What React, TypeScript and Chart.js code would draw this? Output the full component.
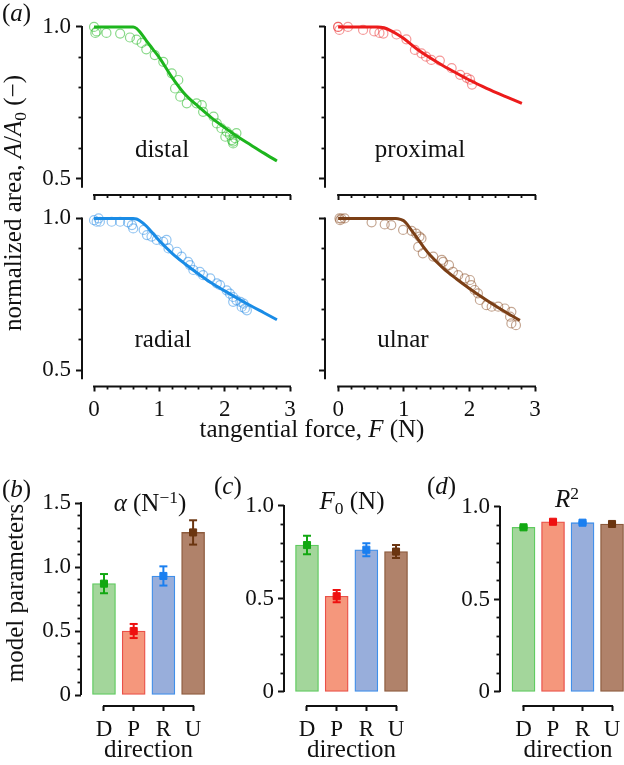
import React, { useEffect, useRef } from 'react';
import { Chart, registerables } from 'chart.js';
Chart.register(...registerables);

const PAGE_W = 624;
const PAGE_H = 765;
const SERIF = "'Liberation Serif', 'Times New Roman', Times, serif";
const INK = '#111111';
const TICK_SIZE = 23;
const TEXT_SIZE = 25;

// ---------- (a) force–area data ----------
const distalFitF = [0, 0.6, 0.65, 0.7, 0.8, 0.9, 1.0, 1.2, 1.4, 1.6, 1.8, 2.0, 2.2, 2.4, 2.6, 2.8];
const distalFitA = [1, 1, 0.995, 0.984, 0.955, 0.927, 0.899, 0.832, 0.776, 0.737, 0.7, 0.668, 0.638, 0.611, 0.584, 0.558];
const distalObsF = [0.0, 0.02, 0.04, 0.19, 0.4, 0.55, 0.65, 0.73, 0.8, 0.93, 1.06, 1.19, 1.29, 1.24, 1.32, 1.42, 1.57, 1.65, 1.67, 1.83, 1.88, 1.95, 2.03, 2.08, 2.11, 2.13, 2.16, 2.18, 2.01, 2.13];
const distalObsA = [1.0, 0.98, 0.985, 0.98, 0.978, 0.965, 0.958, 0.947, 0.926, 0.907, 0.885, 0.847, 0.825, 0.797, 0.77, 0.748, 0.748, 0.742, 0.72, 0.704, 0.682, 0.666, 0.655, 0.644, 0.627, 0.622, 0.633, 0.65, 0.638, 0.616];

const proximalFitF = [0, 0.6, 0.7, 0.8, 0.9, 1.0, 1.2, 1.4, 1.6, 1.8, 2.0, 2.2, 2.4, 2.6, 2.8];
const proximalFitA = [1, 1, 0.997, 0.988, 0.976, 0.962, 0.927, 0.898, 0.872, 0.848, 0.825, 0.804, 0.784, 0.766, 0.748];
const proximalObsF = [0.0, 0.02, 0.0, 0.15, 0.38, 0.55, 0.63, 0.69, 0.89, 1.04, 1.17, 1.27, 1.34, 1.42, 1.55, 1.73, 1.86, 1.96, 2.01, 2.04];
const proximalObsA = [1.0, 0.99, 1.0, 1.0, 0.99, 0.985, 0.98, 0.978, 0.975, 0.959, 0.924, 0.913, 0.902, 0.891, 0.889, 0.864, 0.842, 0.832, 0.826, 0.81];

const radialFitF = [0, 0.6, 0.65, 0.7, 0.8, 0.9, 1.0, 1.2, 1.4, 1.6, 1.8, 2.0, 2.2, 2.4, 2.6, 2.8];
const radialFitA = [1, 1, 0.998, 0.992, 0.975, 0.951, 0.926, 0.884, 0.849, 0.817, 0.787, 0.761, 0.736, 0.712, 0.689, 0.666];
const radialObsF = [0.0, 0.04, 0.07, 0.09, 0.27, 0.4, 0.52, 0.58, 0.6, 0.76, 0.81, 0.88, 0.96, 1.06, 1.11, 1.14, 1.27, 1.34, 1.44, 1.47, 1.52, 1.62, 1.67, 1.78, 1.88, 1.93, 2.03, 2.08, 2.13, 2.18, 2.24, 2.29, 2.31, 2.34, 2.26, 2.13];
const radialObsA = [0.994, 0.989, 1.0, 0.989, 0.989, 0.989, 0.987, 0.978, 0.967, 0.962, 0.945, 0.94, 0.929, 0.923, 0.929, 0.901, 0.89, 0.874, 0.857, 0.846, 0.83, 0.824, 0.813, 0.802, 0.786, 0.78, 0.763, 0.752, 0.741, 0.73, 0.725, 0.719, 0.703, 0.697, 0.708, 0.725];

const ulnarFitF = [0, 0.88, 0.95, 1.0, 1.05, 1.1, 1.2, 1.3, 1.4, 1.6, 1.8, 2.0, 2.2, 2.4, 2.6, 2.77];
const ulnarFitA = [1, 1, 0.997, 0.992, 0.981, 0.966, 0.937, 0.906, 0.879, 0.836, 0.801, 0.769, 0.739, 0.711, 0.685, 0.664];
const ulnarObsF = [0.02, 0.05, 0.1, 0.03, 0.51, 0.71, 0.81, 0.99, 1.12, 1.19, 1.24, 1.27, 1.22, 1.29, 1.45, 1.58, 1.6, 1.69, 1.75, 1.83, 1.93, 2.01, 2.03, 2.08, 2.13, 2.16, 2.26, 2.34, 2.44, 2.54, 2.64, 2.62, 2.64, 2.71];
const ulnarObsA = [1.0, 0.999, 1.0, 0.994, 0.987, 0.98, 0.978, 0.962, 0.959, 0.95, 0.94, 0.934, 0.906, 0.885, 0.874, 0.863, 0.857, 0.846, 0.824, 0.813, 0.802, 0.797, 0.78, 0.764, 0.753, 0.731, 0.714, 0.709, 0.709, 0.703, 0.692, 0.676, 0.654, 0.648];

const forceMajorTicks = [0, 1, 2, 3];
const forceMinorTicks = [0.2, 0.4, 0.6, 0.8, 1.2, 1.4, 1.6, 1.8, 2.2, 2.4, 2.6, 2.8];
const areaMajorTicks = [0.5, 1.0];
const areaMinorTicks = [0.6, 0.7, 0.8, 0.9];

// ---------- (b)-(d) model parameters ----------
const directions = ['D', 'P', 'R', 'U'];
const alphaMean = [0.87, 0.5, 0.93, 1.27];
const alphaErr = [0.075, 0.055, 0.075, 0.095];
const f0Mean = [0.79, 0.515, 0.765, 0.755];
const f0Err = [0.05, 0.033, 0.035, 0.035];
const r2Mean = [0.89, 0.92, 0.915, 0.908];
const r2Err = [0.005, 0.005, 0.005, 0.005];

const alphaMajorTicks = [0, 0.5, 1.0, 1.5];
const alphaMinorTicks = [0.1, 0.2, 0.3, 0.4, 0.6, 0.7, 0.8, 0.9, 1.1, 1.2, 1.3, 1.4];
const unitMajorTicks = [0, 0.5, 1.0];
const unitMinorTicks = [0.1, 0.2, 0.3, 0.4, 0.6, 0.7, 0.8, 0.9];

// colours: D, P, R, U
const lineColors = ['#1db51d', '#ec1b1b', '#1a8ce6', '#7b3f16'];
const circleColors = ['rgba(40,185,40,0.55)', 'rgba(236,50,50,0.5)', 'rgba(40,140,230,0.5)', 'rgba(140,80,40,0.5)'];
const barFills = ['#a3d69b', '#f5977c', '#98aedb', '#b0826a'];
const barEdges = ['#5fcb5f', '#ea5048', '#3f8fea', '#8c5a3c'];
const markerColors = ['#12a812', '#ee1010', '#1a7ff0', '#6b3510'];

const fixH = (h: number) => (s: any) => {
  s.height = h;
  s.paddingLeft = 0; s.paddingRight = 0; s.paddingTop = 0; s.paddingBottom = 0;
};
const fixW = (w: number) => (s: any) => {
  s.width = w;
  s.paddingLeft = 0; s.paddingRight = 0; s.paddingTop = 0; s.paddingBottom = 0;
};
const setTicks = (vals: number[]) => (s: any) => {
  s.ticks = vals.map((v) => ({ value: v }));
};
const fmt = (v: number) => (v === 0 ? '0' : v.toFixed(1));

const spinePlugin = (xFrom: number, xTo: number, yFrom: number, yTo: number) => ({
  id: 'spines',
  afterDraw(chart: any) {
    const { ctx, chartArea, scales } = chart;
    const xs = scales.x;
    const ys = scales.y;
    ctx.save();
    ctx.strokeStyle = INK;
    ctx.lineWidth = 2;
    ctx.beginPath();
    ctx.moveTo(chartArea.left, ys.getPixelForValue(yTo) - 1);
    ctx.lineTo(chartArea.left, ys.getPixelForValue(yFrom));
    ctx.moveTo(xs.getPixelForValue(xFrom) - 1, chartArea.bottom);
    ctx.lineTo(xs.getPixelForValue(xTo) + 1, chartArea.bottom);
    ctx.stroke();
    ctx.restore();
  },
});

const tickFont = { family: SERIF, size: TICK_SIZE };

function axisPair(
  axis: 'x' | 'y',
  min: number,
  max: number,
  major: number[],
  minor: number[],
  size: number,
  showLabels: boolean,
  majorLen: number,
  minorLen: number,
  padding: number,
  labelFn: (v: number) => string,
) {
  const position = axis === 'x' ? 'bottom' : 'left';
  const fit = axis === 'x' ? fixH : fixW;
  const common = {
    type: 'linear',
    axis,
    position,
    min,
    max,
    bounds: 'data',
    offset: false,
    border: { display: false },
  };
  return {
    [axis]: {
      ...common,
      weight: 1,
      afterBuildTicks: setTicks(major),
      afterFit: fit(size),
      grid: { display: true, offset: false, drawOnChartArea: false, drawTicks: true, tickLength: majorLen, tickWidth: 2, tickColor: INK, color: INK },
      ticks: { display: showLabels, padding, color: INK, font: tickFont, autoSkip: false, maxRotation: 0, minRotation: 0, callback: (v: any) => labelFn(Number(v)) },
    },
    [axis + 'Minor']: {
      ...common,
      weight: 0,
      afterBuildTicks: setTicks(minor),
      afterFit: fit(0),
      grid: { display: true, offset: false, drawOnChartArea: false, drawTicks: true, tickLength: minorLen, tickWidth: 1.8, tickColor: INK, color: INK },
      ticks: { display: false },
    },
  };
}

type TopSpec = {
  area: [number, number, number, number];
  xMin: number;
  fitF: number[];
  fitA: number[];
  obsF: number[];
  obsA: number[];
  color: number;
  showX: boolean;
  showY: boolean;
};

const TOP_YMIN = 0.446;
const TOP_YMAX = 1.026;

function makeTop(s: TopSpec) {
  const [l, t, r, b] = s.area;
  const W = 60;
  const H = s.showX ? 40 : 10;
  return {
    type: 'scatter',
    data: {
      datasets: [
        {
          type: 'line',
          data: s.fitF.map((f, i) => ({ x: f, y: s.fitA[i] })),
          borderColor: lineColors[s.color],
          borderWidth: 3,
          pointRadius: 0,
          fill: false,
          cubicInterpolationMode: 'monotone',
          order: 1,
        },
        {
          type: 'scatter',
          data: s.obsF.map((f, i) => ({ x: f, y: s.obsA[i] })),
          pointStyle: 'circle',
          pointRadius: 4.5,
          pointBorderWidth: 1.2,
          borderColor: circleColors[s.color],
          pointBorderColor: circleColors[s.color],
          backgroundColor: 'rgba(0,0,0,0)',
          pointBackgroundColor: 'rgba(0,0,0,0)',
          order: 2,
        },
      ],
    },
    options: {
      responsive: false,
      animation: false,
      events: [],
      layout: { autoPadding: false, padding: { left: l - W, top: t, right: PAGE_W - r, bottom: PAGE_H - b - H } },
      plugins: { legend: { display: false }, tooltip: { enabled: false } },
      scales: {
        ...axisPair('x', s.xMin, 3, forceMajorTicks, forceMinorTicks, H, s.showX, 5, 3, 5, (v) => String(v)),
        ...axisPair('y', TOP_YMIN, TOP_YMAX, areaMajorTicks, areaMinorTicks, W, s.showY, 6, 3.5, 5, fmt),
      },
    },
    plugins: [spinePlugin(0, 3, 0.47, 1.0)],
  };
}

type BarSpec = {
  area: [number, number, number, number];
  xMin: number;
  xMax: number;
  yMin: number;
  yMax: number;
  yTop: number;
  means: number[];
  errs: number[];
  major: number[];
  minor: number[];
};

function makeBar(s: BarSpec) {
  const [l, t, r, b] = s.area;
  const W = 60;
  const H = 40;
  const errorSets = s.means.map((m, i) => ({
    type: 'line',
    data: [
      { x: i, y: m - s.errs[i] },
      { x: i, y: m + s.errs[i] },
    ],
    borderColor: markerColors[i],
    borderWidth: 2,
    pointStyle: 'line',
    pointRadius: 4,
    pointBorderWidth: 2,
    pointBorderColor: markerColors[i],
    pointBackgroundColor: markerColors[i],
    fill: false,
    order: 2,
  }));
  return {
    type: 'bar',
    data: {
      datasets: [
        {
          type: 'bar',
          data: s.means.map((m, i) => ({ x: i, y: m })),
          backgroundColor: barFills,
          borderColor: barEdges,
          borderWidth: 1.3,
          borderSkipped: false,
          barThickness: 23,
          order: 3,
        },
        ...errorSets,
        {
          type: 'scatter',
          data: s.means.map((m, i) => ({ x: i, y: m })),
          pointStyle: 'rect',
          pointRadius: 5,
          pointBorderWidth: 1,
          pointBackgroundColor: markerColors,
          pointBorderColor: markerColors,
          backgroundColor: markerColors,
          borderColor: markerColors,
          order: 1,
        },
      ],
    },
    options: {
      responsive: false,
      animation: false,
      events: [],
      layout: { autoPadding: false, padding: { left: l - W, top: t, right: PAGE_W - r, bottom: PAGE_H - b - H } },
      plugins: { legend: { display: false }, tooltip: { enabled: false } },
      scales: {
        ...axisPair('x', s.xMin, s.xMax, [0, 1, 2, 3], [], H, true, 5, 0, 5, (v) => directions[v] ?? ''),
        ...axisPair('y', s.yMin, s.yMax, s.major, s.minor, W, true, 6, 3.5, 4, fmt),
      },
    },
    plugins: [spinePlugin(0, 3, 0, s.yTop)],
  };
}

const panels: any[] = [
  makeTop({ area: [82, 19, 290, 195], xMin: -0.184, fitF: distalFitF, fitA: distalFitA, obsF: distalObsF, obsA: distalObsA, color: 0, showX: false, showY: true }),
  makeTop({ area: [325, 19, 535, 195], xMin: -0.2, fitF: proximalFitF, fitA: proximalFitA, obsF: proximalObsF, obsA: proximalObsA, color: 1, showX: false, showY: false }),
  makeTop({ area: [82, 210.5, 290, 386.5], xMin: -0.184, fitF: radialFitF, fitA: radialFitA, obsF: radialObsF, obsA: radialObsA, color: 2, showX: true, showY: true }),
  makeTop({ area: [325, 210.5, 535, 386.5], xMin: -0.2, fitF: ulnarFitF, fitA: ulnarFitA, obsF: ulnarObsF, obsA: ulnarObsA, color: 3, showX: true, showY: false }),
  makeBar({ area: [81, 495, 211, 706], xMin: -0.774, xMax: 3.603, yMin: -0.0859, yMax: 1.5625, yTop: 1.5, means: alphaMean, errs: alphaErr, major: alphaMajorTicks, minor: alphaMinorTicks }),
  makeBar({ area: [284, 498, 411.6, 706], xMin: -0.775, xMax: 3.525, yMin: -0.0753, yMax: 1.043, yTop: 1.0, means: f0Mean, errs: f0Err, major: unitMajorTicks, minor: unitMinorTicks }),
  makeBar({ area: [500, 499, 624, 706], xMin: -0.797, xMax: 3.406, yMin: -0.0757, yMax: 1.043, yTop: 1.0, means: r2Mean, errs: r2Err, major: unitMajorTicks, minor: unitMinorTicks }),
];

function ChartCanvas({ config }: { config: any }) {
  const ref = useRef<HTMLCanvasElement>(null);
  useEffect(() => {
    const chart = new Chart(ref.current as HTMLCanvasElement, config);
    return () => chart.destroy();
  }, [config]);
  return (
    <canvas
      ref={ref}
      width={PAGE_W}
      height={PAGE_H}
      style={{ position: 'absolute', left: 0, top: 0, width: PAGE_W, height: PAGE_H, pointerEvents: 'none' }}
    />
  );
}

const Sub = ({ children }: { children: any }) => (
  <span style={{ fontSize: '0.7em', position: 'relative', top: '0.3em', fontStyle: 'normal' }}>{children}</span>
);
const Sup = ({ children }: { children: any }) => (
  <span style={{ fontSize: '0.7em', position: 'relative', top: '-0.45em', fontStyle: 'normal' }}>{children}</span>
);

function Txt({ x, y, size = TEXT_SIZE, align = 'center', children }: { x: number; y: number; size?: number; align?: string; children: any }) {
  const style: any = {
    position: 'absolute',
    left: x,
    top: y - 0.8375 * size,
    fontFamily: SERIF,
    fontSize: size,
    lineHeight: `${size}px`,
    whiteSpace: 'nowrap',
    color: INK,
    transform: align === 'center' ? 'translateX(-50%)' : align === 'right' ? 'translateX(-100%)' : undefined,
  };
  return <div style={style}>{children}</div>;
}

function VTxt({ x, y, size = TEXT_SIZE, children }: { x: number; y: number; size?: number; children: any }) {
  return (
    <div
      style={{
        position: 'absolute',
        left: x,
        top: y,
        fontFamily: SERIF,
        fontSize: size,
        lineHeight: `${size}px`,
        whiteSpace: 'nowrap',
        color: INK,
        transform: 'translate(-50%, -50%) rotate(-90deg)',
      }}
    >
      {children}
    </div>
  );
}

export default function App() {
  return (
    <div style={{ position: 'absolute', left: 0, top: 0, width: PAGE_W, height: PAGE_H, background: '#ffffff', overflow: 'hidden' }}>
      {panels.map((cfg, i) => (
        <ChartCanvas key={i} config={cfg} />
      ))}
      <Txt x={2} y={21} align="left">(<i>a</i>)</Txt>
      <VTxt x={14} y={203}>
        normalized area, <i>A</i>/<i>A</i><Sub>0</Sub> (−)
      </VTxt>
      <Txt x={162} y={157}>distal</Txt>
      <Txt x={420} y={157}>proximal</Txt>
      <Txt x={163} y={347}>radial</Txt>
      <Txt x={403} y={347}>ulnar</Txt>
      <Txt x={312} y={437}>
        tangential force, <i>F</i> (N)
      </Txt>

      <Txt x={2} y={497} align="left">(<i>b</i>)</Txt>
      <Txt x={150} y={511}>
        <i>α</i> (N<Sup>−1</Sup>)
      </Txt>
      <Txt x={214} y={494} align="left">(<i>c</i>)</Txt>
      <Txt x={352} y={509}>
        <i>F</i><Sub>0</Sub> (N)
      </Txt>
      <Txt x={427} y={494} align="left">(<i>d</i>)</Txt>
      <Txt x={567} y={507}>
        <i>R</i><Sup>2</Sup>
      </Txt>
      <VTxt x={14} y={593}>model parameters</VTxt>
      <Txt x={148.5} y={757}>direction</Txt>
      <Txt x={351.5} y={757}>direction</Txt>
      <Txt x={568} y={757}>direction</Txt>
    </div>
  );
}
